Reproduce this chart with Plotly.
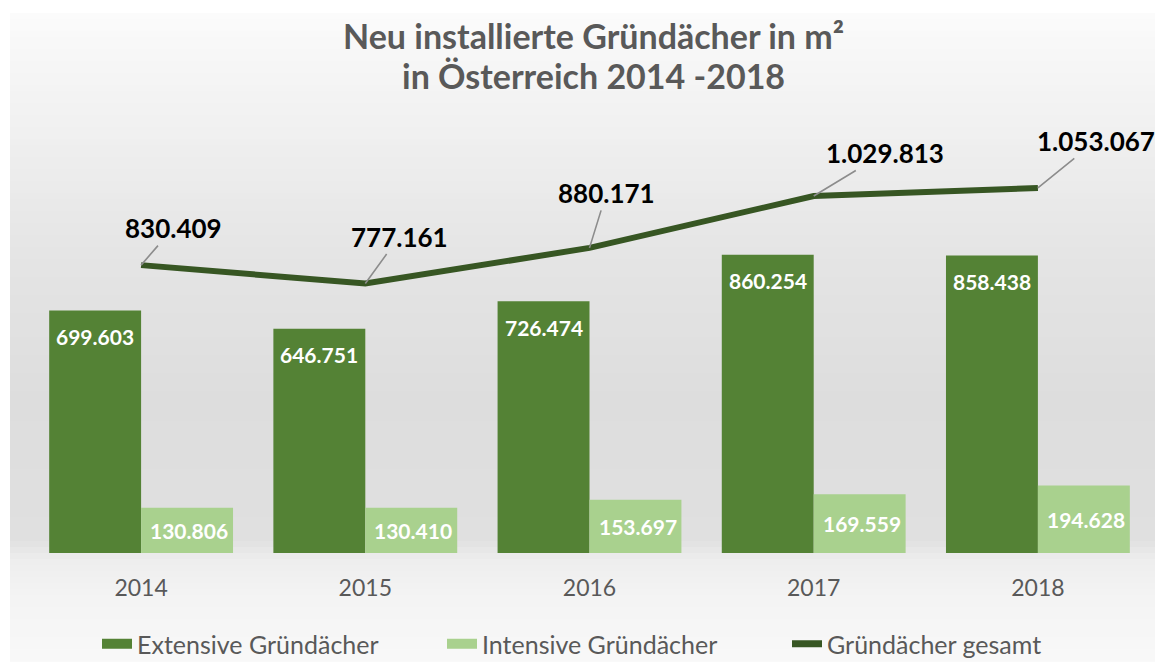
import plotly.graph_objects as go

years = ["2014", "2015", "2016", "2017", "2018"]
extensive = [699603, 646751, 726474, 860254, 858438]
intensive = [130806, 130410, 153697, 169559, 194628]
total = [830409, 777161, 880171, 1029813, 1053067]
total_label_offsets = [(32, -37), (34, -47), (17, -55), (71, -43), (58, -47)]

C_EXT = "#548235"
C_INT = "#A9D18E"
C_TOT = "#375623"
FONT = "Lato"

OFF = 8  # page body margin
W, H = 1163, 662
ML, MR = 29 - OFF, 21
PLOT_TOP, PLOT_BOT = 137 - OFF, 553 - OFF
MT, MB = PLOT_TOP, H - PLOT_BOT
PW = W - ML - MR
PH = PLOT_BOT - PLOT_TOP


def fmt(v):
    return f"{v:,}".replace(",", ".")


def py2paper(py_ref):
    return (PLOT_BOT - (py_ref - OFF)) / PH


fig = go.Figure()
fig.add_trace(go.Bar(x=years, y=extensive, name="Extensive Gründächer", showlegend=False,
                     marker=dict(color=C_EXT, line=dict(width=0))))
fig.add_trace(go.Bar(x=years, y=intensive, name="Intensive Gründächer", showlegend=False,
                     marker=dict(color=C_INT, line=dict(width=0))))
fig.add_trace(go.Scatter(x=years, y=total, name="Gründächer gesamt", mode="lines",
                         showlegend=False, line=dict(color=C_TOT, width=6)))
# legend entries
fig.add_trace(go.Scatter(x=[None], y=[None], mode="lines", name="Extensive Gründächer",
                         line=dict(color=C_EXT, width=16)))
fig.add_trace(go.Scatter(x=[None], y=[None], mode="lines", name="Intensive Gründächer",
                         line=dict(color=C_INT, width=16)))
fig.add_trace(go.Scatter(x=[None], y=[None], mode="lines", name="Gründächer gesamt",
                         line=dict(color=C_TOT, width=7)))

ann = []
for i, y in enumerate(years):
    ann.append(dict(x=i, y=extensive[i], text=f"<b>{fmt(extensive[i])}</b>", showarrow=False,
                    xshift=-46, yshift=-26, yanchor="middle",
                    font=dict(family=FONT, size=21, color="white")))
    ann.append(dict(x=i, y=intensive[i] / 2, text=f"<b>{fmt(intensive[i])}</b>", showarrow=False,
                    xshift=48, yanchor="middle",
                    font=dict(family=FONT, size=21, color="white")))
    ax, ay = total_label_offsets[i]
    ann.append(dict(x=i, y=total[i], text=f"<b>{fmt(total[i])}</b>", showarrow=True,
                    ax=ax, ay=ay, arrowhead=0, arrowwidth=1.6, arrowcolor="#8c8c8c",
                    standoff=0, startstandoff=0,
                    font=dict(family=FONT, size=26, color="black")))

for txt, py in [("<b>Neu installierte Gründächer in m²</b>", 35), ("<b>in Österreich 2014 -2018</b>", 76)]:
    ann.append(dict(xref="paper", yref="paper", x=(593 - OFF - ML) / PW, y=py2paper(py),
                    text=txt, showarrow=False, xanchor="center", yanchor="middle",
                    font=dict(family=FONT, size=34, color="#595959")))

# background vertical gradient (chart area), stops in reference page pixels
stops = [(13, 251), (120, 241), (250, 229), (400, 221), (540, 224), (560, 238), (600, 244), (670, 249)]


def gray_at(py):
    for (y0, g0), (y1, g1) in zip(stops[:-1], stops[1:]):
        if y0 <= py <= y1:
            return g0 + (g1 - g0) * (py - y0) / (y1 - y0)
    return stops[-1][1]


shapes = []
step = 6
x0p = (10 - OFF - ML) / PW
x1p = (W - ML) / PW
py = 13
while py < H + OFF:
    pyb = min(py + step, H + OFF)
    g = int(round(gray_at((py + pyb) / 2)))
    shapes.append(dict(type="rect", xref="paper", yref="paper", layer="below",
                       x0=x0p, x1=x1p, y0=py2paper(pyb), y1=py2paper(py),
                       fillcolor=f"rgb({g},{g},{g})", line=dict(width=0)))
    py = pyb

fig.update_layout(
    width=W, height=H,
    margin=dict(l=ML, r=MR, t=MT, b=MB),
    paper_bgcolor="white", plot_bgcolor="rgba(0,0,0,0)",
    barmode="group", bargap=0.18, bargroupgap=0,
    xaxis=dict(type="category", range=[-0.5, len(years) - 0.5], showgrid=False,
               zeroline=False, showline=False, ticks="", ticklabelstandoff=19,
               tickfont=dict(family=FONT, size=23, color="#595959")),
    yaxis=dict(range=[0, 1200000], visible=False, showgrid=False, zeroline=False),
    legend=dict(orientation="h", x=0.5 + 25 / PW, xanchor="center", yref="container",
                y=26 / H, yanchor="middle", font=dict(family=FONT, size=25, color="#595959"),
                entrywidth=300, traceorder="normal", bgcolor="rgba(0,0,0,0)"),
    annotations=ann, shapes=shapes, showlegend=True,
)

fig.write_html("out.html")
